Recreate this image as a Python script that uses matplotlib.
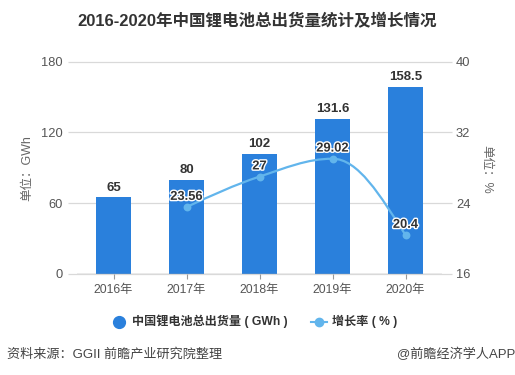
import matplotlib
matplotlib.use('Agg')
import matplotlib.pyplot as plt
import matplotlib.patheffects as pe
from matplotlib.lines import Line2D
from matplotlib.path import Path
from matplotlib.patches import PathPatch
import numpy as np

plt.rcParams['font.family'] = ['Liberation Sans', 'Noto Sans CJK SC', 'DejaVu Sans']

years = ['2016年', '2017年', '2018年', '2019年', '2020年']
shipments = [65, 80, 102, 131.6, 158.5]
growth_years = [1, 2, 3, 4]
growth = [23.56, 27, 29.02, 20.4]
growth_labels = ['23.56', '27', '29.02', '20.4']
left_ticks = [0, 60, 120, 180]
right_ticks = [16, 24, 32, 40]

W, H = 515, 375
BLUE = '#2a80dc'
LINE = '#62b5ec'
DARK = '#333333'
TICK = '#555555'

fig = plt.figure(figsize=(W / 100, H / 100), dpi=100)
ax = fig.add_axes([77 / W, 1 - 274 / H, 365 / W, (274 - 61.5) / H])
ax2 = ax.twinx()

ax.bar(range(5), shipments, width=0.466, color=BLUE, zorder=2)
ax.set_xlim(-0.5, 4.5)
ax.set_ylim(0, 180)
ax.set_yticks(left_ticks)
ax.set_xticks(range(5))
ax.set_xticklabels(years)
ax.tick_params(axis='x', length=3.6, width=0.8, color='#999999', labelcolor=TICK, labelsize=8.8, pad=3.6)
ax.tick_params(axis='y', length=0, labelcolor=TICK, labelsize=9.3, pad=10)
for s in ax.spines.values():
    s.set_visible(False)
for s in ax2.spines.values():
    s.set_visible(False)

# gridlines stick out past the plot on both sides
ax.hlines(left_ticks, -9 / 365, 1 + 10 / 365, transform=ax.get_yaxis_transform(),
          color='#d9d9d9', lw=0.9, zorder=0, clip_on=False)
ax.axhline(0, color='#aaaaaa', lw=1, zorder=3)

ax2.set_ylim(16, 40)
ax2.set_yticks(right_ticks)
ax2.tick_params(axis='y', length=0, labelcolor=TICK, labelsize=9.3, pad=10)

# smooth line through the growth values, flat at the peak
xs = np.array(growth_years, dtype=float)
ys = np.array(growth, dtype=float)
slopes = np.zeros(len(ys))
for i in range(1, len(ys) - 1):
    if (ys[i] - ys[i - 1]) * (ys[i + 1] - ys[i]) > 0:
        slopes[i] = (ys[i + 1] - ys[i - 1]) / 2
slopes[0] = 1.5 * (ys[1] - ys[0]) - 0.5 * slopes[1]
slopes[-1] = 1.5 * (ys[-1] - ys[-2]) - 0.5 * slopes[-2]
verts = [(xs[0], ys[0])]
codes = [Path.MOVETO]
k = 0.35
for i in range(len(xs) - 1):
    verts.append((xs[i] + k, ys[i] + slopes[i] * k))
    verts.append((xs[i + 1] - k, ys[i + 1] - slopes[i + 1] * k))
    verts.append((xs[i + 1], ys[i + 1]))
    codes += [Path.CURVE4, Path.CURVE4, Path.CURVE4]
ax2.add_patch(PathPatch(Path(verts, codes), fc='none', ec=LINE, lw=1.6, zorder=4))
ax2.scatter(xs, ys, s=32, color=LINE, linewidths=0, zorder=5)

for i, v in enumerate(shipments):
    ax.annotate(str(v), (i, v), xytext=(0, 2.5), textcoords='offset points', ha='center', va='bottom',
                fontsize=9.5, fontweight='bold', color=DARK, zorder=6)
for x, y, t in zip(xs, ys, growth_labels):
    ax2.annotate(t, (x, y), xytext=(0, 3), textcoords='offset points', ha='center', va='bottom',
                 fontsize=9.3, fontweight='bold', color=DARK, zorder=6,
                 path_effects=[pe.withStroke(linewidth=2, foreground='white')])

fig.text(27 / W, 1 - 168 / H, '单位：GWh', rotation=90, ha='center', va='center', fontsize=9, color='#666666')
fig.text(486 / W, 1 - 169 / H, '单位：%', rotation=-90, ha='center', va='center', fontsize=9, color='#666666')

fig.text(257 / W, 1 - 21.5 / H, '2016-2020年中国锂电池总出货量统计及增长情况', ha='center', va='center',
         fontsize=11.9, fontweight='bold', color=DARK)

# legend drawn by hand to sit where the reference has it
fig.add_artist(Line2D([119 / W], [1 - 321.5 / H], marker='o', ms=8.5, color=BLUE, ls='none', transform=fig.transFigure))
fig.text(132 / W, 1 - 321.5 / H, '中国锂电池总出货量 ( GWh )', ha='left', va='center', fontsize=8.7, fontweight='bold', color=DARK)
fig.add_artist(Line2D([311 / W, 327 / W], [1 - 322 / H] * 2, color=LINE, lw=1.5, transform=fig.transFigure))
fig.add_artist(Line2D([319 / W], [1 - 322 / H], marker='o', ms=6, color=LINE, ls='none', transform=fig.transFigure))
fig.text(332 / W, 1 - 321.5 / H, '增长率 ( % )', ha='left', va='center', fontsize=8.7, fontweight='bold', color=DARK)

fig.text(7 / W, 1 - 354 / H, '资料来源：GGII 前瞻产业研究院整理', ha='left', va='center', fontsize=9.45, color='#444444')
fig.text(515 / W, 1 - 354 / H, '@前瞻经济学人APP', ha='right', va='center', fontsize=9.45, color='#444444')

fig.savefig('out.png', dpi=100)
